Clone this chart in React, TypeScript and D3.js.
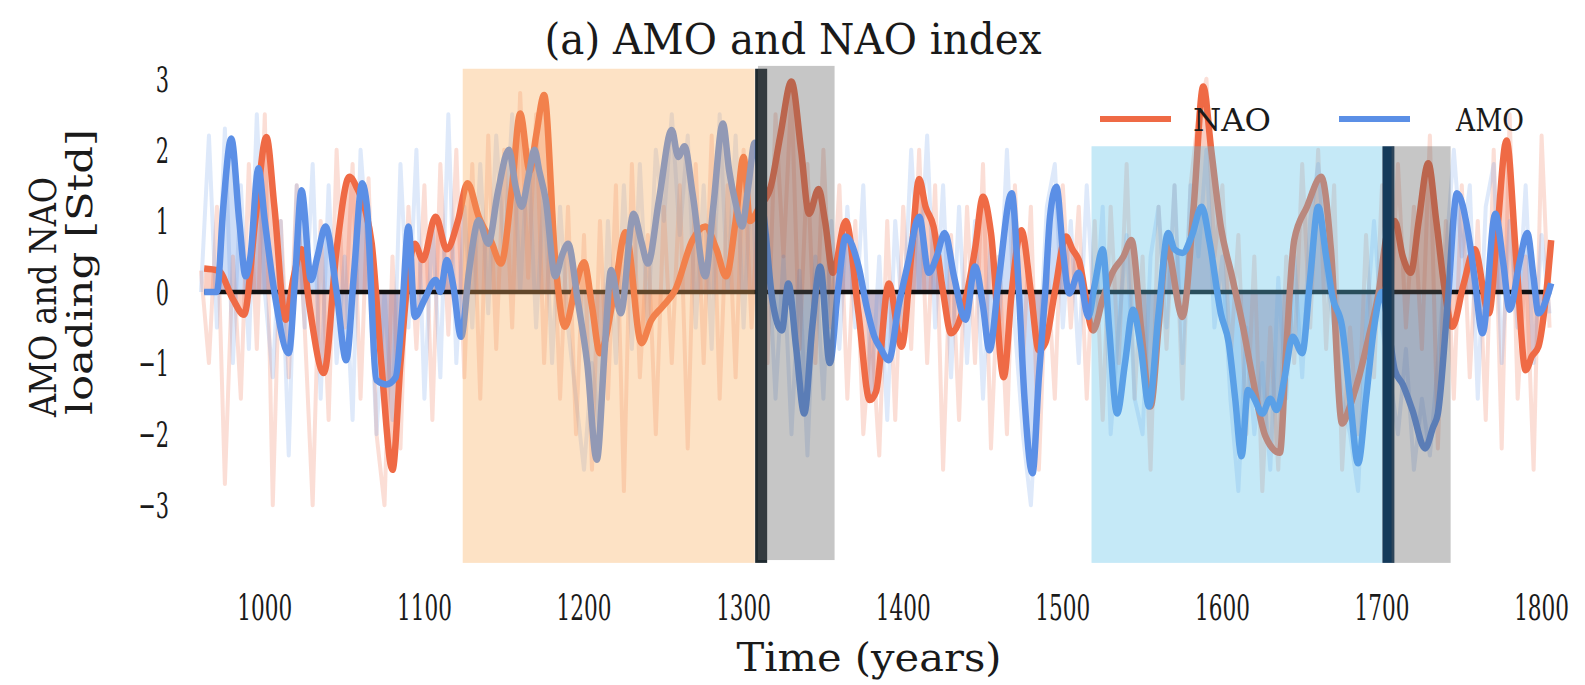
import React from 'react';
import * as d3 from 'd3';

const W = 1585;
const H = 685;

const xTicks = [1000, 1100, 1200, 1300, 1400, 1500, 1600, 1700, 1800];
const yTicks = [-3, -2, -1, 0, 1, 2, 3];

// smoothed NAO index (years / values)
const naoYears = [962, 971, 980, 987, 994, 1001, 1006, 1013, 1018, 1023, 1028, 1037, 1045, 1053, 1058, 1063, 1067, 1073, 1080, 1085, 1090, 1094, 1099, 1107, 1114, 1121, 1127, 1134, 1142, 1148, 1155, 1160, 1166, 1170, 1175, 1182, 1188, 1195, 1200, 1205, 1210, 1219, 1226, 1236, 1242, 1249, 1257, 1268, 1276, 1283, 1289, 1295, 1300, 1304, 1310, 1317, 1323, 1330, 1336, 1341, 1347, 1351, 1356, 1364, 1372, 1379, 1383, 1391, 1399, 1405, 1410, 1414, 1419, 1425, 1430, 1439, 1445, 1450, 1455, 1463, 1468, 1474, 1480, 1485, 1489, 1495, 1502, 1506, 1510, 1519, 1525, 1531, 1538, 1543, 1549, 1555, 1560, 1565, 1575, 1582, 1588, 1593, 1599, 1606, 1613, 1618, 1627, 1636, 1640, 1645, 1653, 1662, 1668, 1675, 1680, 1685, 1692, 1698, 1703, 1708, 1713, 1718, 1723, 1729, 1734, 1739, 1744, 1751, 1758, 1767, 1772, 1778, 1784, 1790, 1794, 1798, 1803, 1806];
const naoValues = [0.33, 0.3, -0.1, -0.32, 1.0, 2.18, 1.2, -0.39, 0.2, 0.6, -0.2, -1.14, 0.6, 1.62, 1.45, 1.15, 0.68, -1.0, -2.5, -1.0, 0.27, 0.68, 0.45, 1.06, 0.6, 1.0, 1.53, 1.06, 0.7, 0.4, 1.5, 2.51, 1.7, 2.2, 2.77, 0.45, -0.49, 0.1, 0.42, -0.2, -0.86, 0.0, 0.84, -0.72, -0.4, -0.21, 0.02, 0.73, 0.92, 0.6, 0.22, 1.0, 1.9, 1.0, 1.2, 1.48, 2.2, 2.96, 2.0, 1.1, 1.45, 1.0, 0.27, 1.0, -0.3, -1.52, -1.4, 0.12, -0.77, 0.5, 1.59, 1.2, 0.92, 0.0, -0.58, -0.11, 0.6, 1.34, 0.83, -1.2, 0.0, 0.87, 0.0, -0.82, -0.72, 0.0, 0.78, 0.6, 0.45, -0.54, -0.1, 0.27, 0.5, 0.73, -0.5, -1.61, -0.5, 0.64, -0.35, 1.2, 2.89, 2.0, 0.92, 0.22, -0.5, -1.1, -2.03, -2.26, -0.8, 0.73, 1.2, 1.62, 0.6, -1.85, -1.6, -1.24, -0.6, 0.0, 0.8, 1.0, 0.5, 0.27, 1.0, 1.81, 1.0, 0.08, -0.49, 0.1, 0.6, -0.3, 0.8, 2.13, 0.5, -1.1, -0.9, -0.77, 0.0, 0.73];

// smoothed AMO index (years / values)
const amoYears = [962, 970, 974, 979, 984, 988, 991, 996, 1000, 1006, 1015, 1019, 1023, 1029, 1033, 1038, 1045, 1051, 1056, 1061, 1064, 1070, 1076, 1082, 1086, 1090, 1094, 1100, 1107, 1110, 1114, 1118, 1123, 1128, 1134, 1140, 1146, 1153, 1157, 1161, 1165, 1169, 1172, 1176, 1182, 1186, 1190, 1196, 1202, 1208, 1213, 1217, 1223, 1231, 1236, 1240, 1247, 1255, 1259, 1263, 1268, 1276, 1281, 1287, 1291, 1295, 1299, 1303, 1307, 1313, 1318, 1324, 1328, 1333, 1338, 1343, 1348, 1354, 1359, 1364, 1372, 1377, 1382, 1386, 1391, 1397, 1403, 1410, 1416, 1421, 1426, 1432, 1439, 1445, 1450, 1454, 1460, 1468, 1472, 1476, 1481, 1485, 1489, 1492, 1496, 1500, 1504, 1510, 1516, 1520, 1525, 1529, 1534, 1539, 1544, 1549, 1554, 1560, 1566, 1570, 1575, 1581, 1587, 1592, 1599, 1604, 1608, 1612, 1616, 1620, 1625, 1630, 1634, 1639, 1644, 1650, 1655, 1660, 1665, 1669, 1675, 1680, 1685, 1690, 1695, 1700, 1704, 1708, 1713, 1719, 1727, 1732, 1735, 1741, 1747, 1754, 1758, 1763, 1771, 1776, 1780, 1786, 1791, 1795, 1798, 1803, 1806];
const amoValues = [0.0, 0.0, 1.2, 2.16, 1.0, 0.22, 0.5, 1.74, 1.0, 0.0, -0.86, 0.2, 1.43, 0.17, 0.5, 0.92, 0.0, -0.96, 0.3, 1.53, 1.2, -1.24, -1.3, -1.2, -0.3, 0.92, -0.35, -0.11, 0.17, 0.0, 0.45, 0.1, -0.63, 0.3, 1.01, 0.68, 1.4, 2.0, 1.5, 1.2, 1.6, 2.0, 1.7, 1.3, 0.22, 0.5, 0.68, -0.11, -1.0, -2.36, -0.8, 0.31, -0.3, 1.1, 0.7, 0.4, 1.3, 2.28, 1.9, 2.05, 1.39, 0.22, 1.2, 2.37, 1.7, 1.25, 0.92, 1.5, 2.1, 1.0, -0.11, -0.54, 0.12, -0.8, -1.71, -0.5, 0.36, -1.0, 0.0, 0.78, 0.36, -0.2, -0.63, -0.8, -0.96, -0.21, 0.4, 1.06, 0.27, 0.5, 0.83, 0.2, -0.39, 0.36, -0.2, -0.82, 0.2, 1.39, 0.2, -1.5, -2.55, -1.2, 0.0, 1.06, 1.48, 0.6, -0.02, 0.27, -0.35, 0.1, 0.6, -0.5, -1.71, -1.0, -0.25, -0.8, -1.61, -0.3, 0.83, 0.6, 0.55, 0.8, 1.2, 0.7, -0.3, -0.72, -1.5, -2.31, -1.38, -1.5, -1.71, -1.5, -1.66, -1.2, -0.63, -0.86, 0.2, 1.2, 0.5, -0.07, -0.49, -1.5, -2.41, -1.5, -0.5, 0.0, -0.5, -1.1, -1.3, -1.66, -2.2, -1.9, -1.71, -0.2, 1.39, 0.83, 0.2, -0.58, 1.1, 0.4, -0.25, 0.4, 0.83, 0.2, -0.3, -0.1, 0.12];

// raw (unsmoothed) series, every 5 years from 960 to 1805
const rawStart = 960;
const rawStep = 5;
const naoRaw = [
  0.3, -1.0, 1.2, -2.7, 0.5, -1.5, 1.8, -0.8, 2.5, -3.0,
  1.0, -1.2, 1.5, -0.5, -3.0, 1.0, -1.8, 2.0, -0.5, 1.8,
  -1.5, 1.6, -2.0, -3.0, 0.5, -2.2, 1.2, -0.8, 1.5, -1.8,
  1.8, -0.6, 2.0, -1.2, 1.8, -1.5, 2.2, -0.8, 2.0, -0.5,
  2.8, 0.2, 2.5, -1.0, 1.5, -1.5, 1.2, -2.0, 0.8, -2.5,
  1.0, -1.5, 1.5, -2.8, 1.8, -1.2, 0.8, -2.0, 1.2, -1.0,
  1.5, -2.2, 1.8, -1.0, 2.2, -1.5, 1.5, -1.2, 2.0, -0.5,
  1.5, -1.0, 2.5, 0.5, 2.8, -0.8, 1.8, -1.0, 2.0, -0.5,
  1.5, -1.5, 1.0, -2.0, -0.5, -2.3, 1.0, -1.8, 1.2, -0.8,
  2.0, -1.0, 1.5, -2.5, 0.8, -1.8, 1.2, -1.0, 1.8, -2.2,
  0.5, -2.0, 1.5, -1.0, 1.2, -2.5, 0.5, -1.5, 1.5, -0.5,
  1.2, -1.5, 1.0, -1.8, 1.2, -1.0, 1.8, -1.5, 0.5, -2.5,
  1.2, -0.8, 1.5, -1.5, 1.5, 2.5, 3.0, 0.5, 1.5, -1.0,
  0.8, -2.0, 0.5, -2.8, -0.5, -2.5, 0.5, -1.0, 1.8, -0.5,
  2.0, -0.8, 1.5, -2.5, -0.5, -2.0, 0.8, -1.2, 1.5, -0.5,
  1.8, -0.5, 1.2, -0.8, 2.2, -2.2, 1.0, -1.5, 1.5, -1.2,
  1.0, -1.8, 2.0, -2.2, 2.5, -1.5, 0.5, -2.5, 2.2, -0.5,
];
const amoRaw = [
  0.0, 2.2, -0.5, 2.3, -1.0, 1.5, -0.8, 2.5, 0.0, -1.2,
  1.0, -2.3, 1.5, -0.5, 1.8, -1.5, 1.5, -1.0, 0.5, -1.8,
  2.0, 0.5, -2.0, 0.0, -1.8, 1.8, -0.5, 2.0, -1.5, 1.0,
  -1.2, 2.5, -1.0, 1.2, -0.5, 1.8, -0.3, 2.2, 0.5, 2.5,
  0.0, 2.0, -0.5, 1.5, -1.0, 1.2, -0.5, -1.5, -2.5, -1.0,
  -2.0, 1.0, -1.0, 1.5, -0.8, 1.8, -0.5, 2.0, 1.0, 2.5,
  0.8, 2.2, -0.5, 1.5, -0.8, 2.5, 0.0, 2.2, -0.5, 1.8,
  -1.0, 0.8, -1.5, 0.5, -2.0, 0.3, -2.3, 0.5, -1.5, 1.0,
  -0.8, 1.2, -0.5, 1.5, -1.5, 0.5, -1.8, 1.0, -0.5, 2.0,
  0.0, 2.2, -0.5, 1.5, -1.2, 1.2, -1.0, 1.0, -1.5, 0.8,
  -0.5, 2.0, -0.5, -2.0, -3.0, -1.0, 1.2, 1.8, -0.5, 1.0,
  -1.0, 1.5, -0.5, 1.2, -2.0, -0.5, 0.8, -1.5, -2.0, 0.5,
  1.2, -0.5, 1.5, -1.0, 1.5, 0.5, 2.0, -0.5, 0.5, -1.5,
  -2.8, -0.5, -2.0, -1.0, -2.5, 0.2, -1.5, 0.5, -1.2, 1.0,
  1.8, 0.3, -0.5, -1.5, -2.0, -2.8, -0.5, 1.0, -0.5, -1.2,
  -2.0, -0.8, -2.5, -1.5, -2.3, -1.0, 0.5, 2.0, 0.5, 1.5,
  -1.5, 1.2, 1.8, -1.0, 1.0, -0.5, 1.5, -1.0, 0.8, -0.3,
];

// shaded periods
const spanStart = [1124, 1309, 1518, 1706];
const spanEnd = [1307, 1357, 1700, 1743];
const spanTop = [3.14, 3.18, 2.05, 2.05];
const spanBottom = [-3.81, -3.77, -3.81, -3.81];
const spanColors = ['#f8ac58', '#5c5c5c', '#59c0e8', '#5c5c5c'];

// transition markers
const markYears = [1311, 1704];
const markTop = [3.14, 2.05];
const markBottom = [-3.81, -3.81];
const markColors = ['#1f2a30', '#143a5a'];

const NAO_COLOR = '#ef6a45';
const AMO_COLOR = '#5b8fe6';

const FONT = "'DejaVu Serif', serif";
const INK = '#1a1a1a';

export default function App() {
  const x = d3.scaleLinear().domain([1000, 1800]).range([264.8, 1541.6]);
  const y = d3.scaleLinear().domain([-3, 3]).range([505.3, 78.7]);

  const nao: [number, number][] = naoYears.map((yr, i) => [yr, naoValues[i]]);
  const amo: [number, number][] = amoYears.map((yr, i) => [yr, amoValues[i]]);
  const naoR: [number, number][] = naoRaw.map((v, i) => [rawStart + i * rawStep, v]);
  const amoR: [number, number][] = amoRaw.map((v, i) => [rawStart + i * rawStep, v]);

  const smooth = d3
    .line<[number, number]>()
    .x((d) => x(d[0]))
    .y((d) => y(d[1]))
    .curve(d3.curveMonotoneX);
  const fill = d3
    .area<[number, number]>()
    .x((d) => x(d[0]))
    .y0(y(0))
    .y1((d) => y(d[1]))
    .curve(d3.curveMonotoneX);
  const raw = d3
    .line<[number, number]>()
    .x((d) => x(d[0]))
    .y((d) => y(d[1]));

  const x0 = x(naoYears[0]);
  const x1 = x(naoYears[naoYears.length - 1]);

  return (
    <svg
      width={W}
      height={H}
      style={{ position: 'absolute', left: 0, top: 0, background: '#fff' }}
    >
      <rect x={0} y={0} width={W} height={H} fill="#fff" />

      {/* fills between curve and zero */}
      <path d={fill(nao) || ''} fill={NAO_COLOR} opacity={0.32} />
      <path d={fill(amo) || ''} fill={AMO_COLOR} opacity={0.3} />

      {/* raw series */}
      <path d={raw(naoR) || ''} fill="none" stroke={NAO_COLOR} strokeWidth={4} opacity={0.22} strokeLinejoin="round" />
      <path d={raw(amoR) || ''} fill="none" stroke={AMO_COLOR} strokeWidth={4} opacity={0.2} strokeLinejoin="round" />

      {/* zero line */}
      <line x1={x0} x2={x1} y1={y(0)} y2={y(0)} stroke="#111" strokeWidth={4.5} />

      {/* smoothed lines */}
      <path d={smooth(nao) || ''} fill="none" stroke={NAO_COLOR} strokeWidth={6.5} strokeLinejoin="round" />
      <path d={smooth(amo) || ''} fill="none" stroke={AMO_COLOR} strokeWidth={6.5} strokeLinejoin="round" />

      {/* period markers */}
      {markYears.map((yr, i) => (
        <rect
          key={'m' + i}
          x={x(yr) - 6}
          width={12}
          y={y(markTop[i])}
          height={y(markBottom[i]) - y(markTop[i])}
          fill={markColors[i]}
        />
      ))}

      {/* shaded spans (translucent, over the data) */}
      {spanStart.map((s, i) => (
        <rect
          key={'s' + i}
          x={x(s)}
          width={x(spanEnd[i]) - x(s)}
          y={y(spanTop[i])}
          height={y(spanBottom[i]) - y(spanTop[i])}
          fill={spanColors[i]}
          opacity={0.35}
        />
      ))}

      {/* title */}
      <text x={793} y={54} textAnchor="middle" fontFamily={FONT} fontSize={42} fill={INK} textLength={497} lengthAdjust="spacingAndGlyphs">
        (a) AMO and NAO index
      </text>

      {/* y tick labels */}
      {yTicks.map((t) => (
        <text
          key={'yt' + t}
          transform={`translate(169,${y(t) + 13}) scale(0.58,1)`}
          textAnchor="end"
          fontFamily={FONT}
          fontSize={36}
          fill={INK}
        >
          {t < 0 ? '\u2212' + Math.abs(t) : String(t)}
        </text>
      ))}

      {/* x tick labels */}
      {xTicks.map((t) => (
        <text
          key={'xt' + t}
          transform={`translate(${x(t)},620) scale(0.6,1)`}
          textAnchor="middle"
          fontFamily={FONT}
          fontSize={36}
          fill={INK}
        >
          {t}
        </text>
      ))}

      {/* axis labels */}
      <text x={869} y={671} textAnchor="middle" fontFamily={FONT} fontSize={40} fill={INK} textLength={265} lengthAdjust="spacingAndGlyphs">
        Time (years)
      </text>
      <g transform="rotate(-90)">
        <text x={-297} y={56} textAnchor="middle" fontFamily={FONT} fontSize={37} fill={INK} textLength={240} lengthAdjust="spacingAndGlyphs">
          AMO and NAO
        </text>
        <text x={-272} y={92} textAnchor="middle" fontFamily={FONT} fontSize={36} fill={INK} textLength={286} lengthAdjust="spacingAndGlyphs">
          loading [Std]
        </text>
      </g>

      {/* legend */}
      <line x1={1100} x2={1171} y1={119} y2={119} stroke={NAO_COLOR} strokeWidth={6} />
      <text x={1193} y={131} fontFamily={FONT} fontSize={31} fill={INK} textLength={78} lengthAdjust="spacingAndGlyphs">
        NAO
      </text>
      <line x1={1339} x2={1410} y1={119} y2={119} stroke={AMO_COLOR} strokeWidth={6} />
      <text x={1456} y={131} fontFamily={FONT} fontSize={31} fill={INK} textLength={68} lengthAdjust="spacingAndGlyphs">
        AMO
      </text>
    </svg>
  );
}
